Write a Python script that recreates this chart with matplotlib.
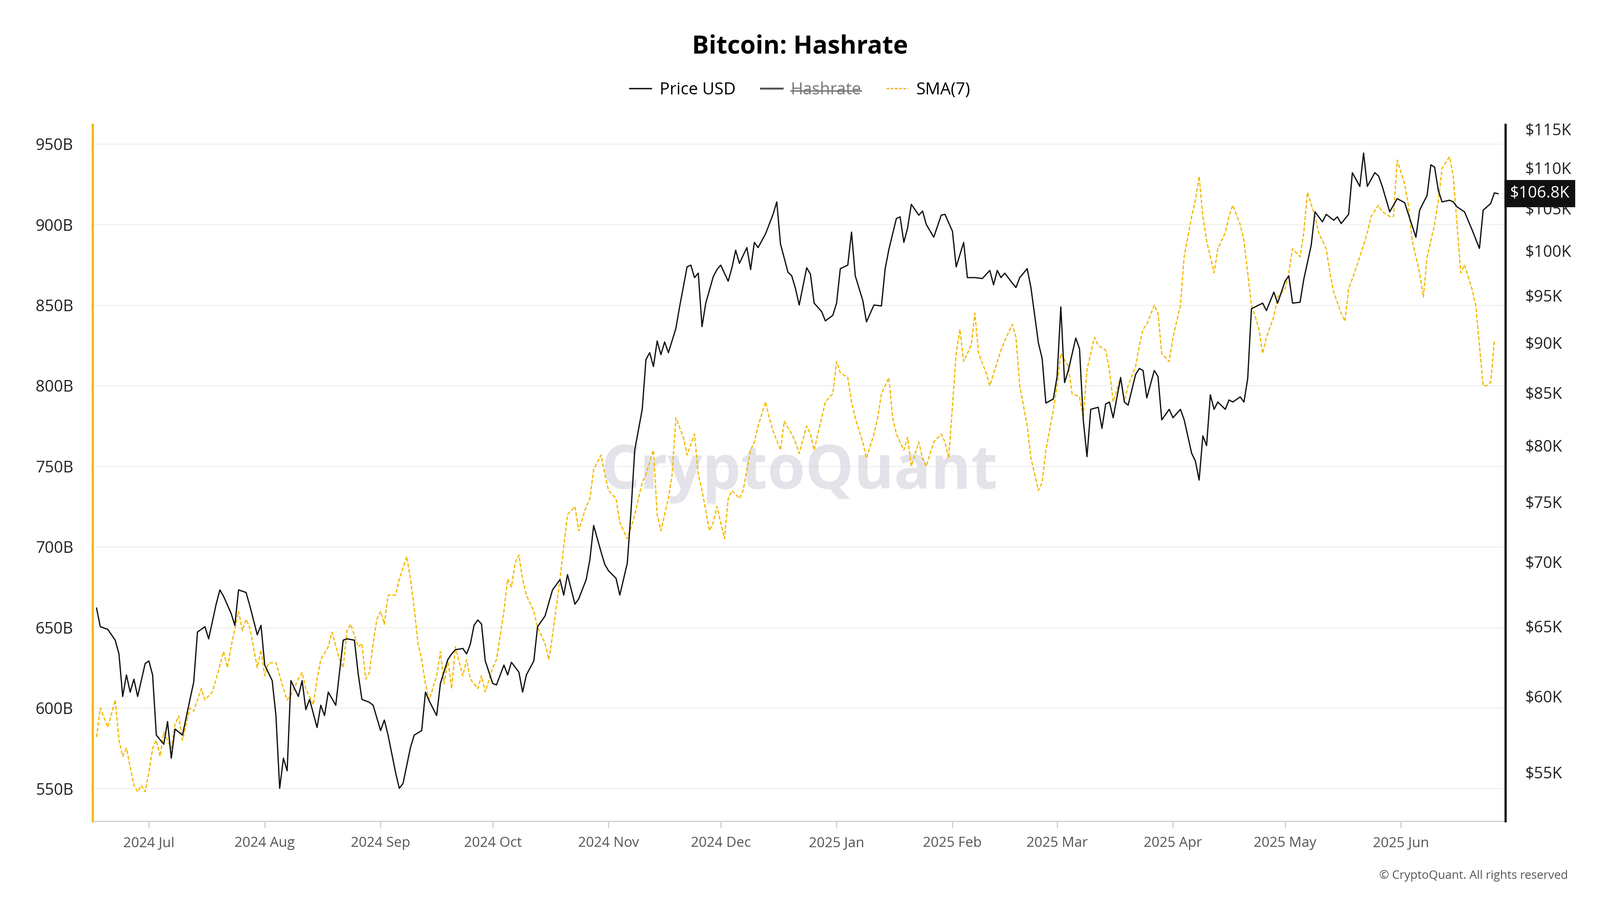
import matplotlib
matplotlib.use("Agg")
import matplotlib.pyplot as plt
import matplotlib.dates as mdates
from matplotlib.lines import Line2D
from matplotlib.ticker import FixedLocator, FuncFormatter, NullLocator
import pandas as pd

plt.rcParams["font.family"] = ["Open Sans", "DejaVu Sans"]

START = pd.Timestamp("2024-07-01")

# price USD (K), day offset from 2024-07-01
PRICE_DAY = [-14, -13, -11, -9, -8, -7, -6, -5, -4, -3, -1, 0, 1, 2, 4, 5, 6, 7, 9, 11, 12, 13, 15, 16, 18, 19, 20, 22,
             23, 24, 26, 27, 29, 30, 31, 33, 34, 35, 36, 37, 38, 40, 41, 42, 43, 45, 46, 47, 48, 50, 52, 53, 55, 56,
             57, 59, 60, 62, 63, 64, 66, 67, 68, 70, 71, 73, 74, 75, 77, 78, 80, 81, 82, 84, 85, 86, 87, 88, 89, 90,
             92, 93, 95, 96, 97, 99, 100, 101, 103, 104, 106, 107, 108, 110, 111, 112, 114, 115, 117, 118, 119, 121,
             122, 123, 125, 126, 128, 129, 130, 132, 133, 134, 135, 136, 137, 138, 139, 141, 142, 144, 145, 146, 147,
             148, 149, 151, 152, 153, 155, 156, 157, 158, 160, 161, 162, 163, 165, 167, 168, 169, 171, 172, 173, 174,
             176, 177, 178, 180, 181, 183, 184, 185, 187, 188, 189, 191, 192, 194, 196, 197, 198, 200, 201, 202, 203,
             204, 206, 207, 208, 210, 212, 213, 215, 216, 218, 219, 221, 223, 225, 226, 227, 228, 229, 231, 232, 233,
             235, 236, 238, 239, 240, 242, 243, 244, 245, 246, 248, 249, 250, 251, 252, 254, 255, 256, 257, 258, 260,
             261, 262, 264, 265, 266, 267, 269, 270, 271, 273, 274, 276, 277, 279, 280, 281, 282, 283, 284, 285, 286,
             288, 289, 290, 292, 293, 294, 295, 297, 298, 299, 301, 302, 304, 305, 306, 308, 309, 311, 312, 313, 314,
             315, 317, 318, 319, 321, 322, 324, 325, 326, 328, 329, 330, 332, 333, 334, 336, 337, 339, 340, 342, 343,
             344, 345, 346, 348, 349, 350, 352, 354, 356, 357, 359, 360, 361]
PRICE_K = [66.4, 65.0, 64.8, 64.0, 63.0, 60.0, 61.5, 60.3, 61.2, 60.0, 62.3, 62.5, 61.5, 57.4, 56.8, 58.3, 55.9, 57.8,
           57.4, 59.8, 61.0, 64.6, 65.0, 64.1, 66.7, 67.8, 67.3, 66.0, 65.1, 67.8, 67.6, 66.6, 64.4, 65.1, 62.2, 61.1,
           58.7, 54.0, 55.9, 55.1, 61.1, 60.0, 61.1, 59.1, 59.8, 57.9, 59.4, 58.7, 60.3, 59.4, 64.0, 64.1, 64.0, 61.6,
           59.8, 59.6, 59.4, 57.7, 58.4, 57.4, 55.0, 54.0, 54.3, 56.6, 57.4, 57.7, 60.3, 59.7, 58.7, 60.9, 62.6, 63.0,
           63.3, 63.4, 63.0, 63.7, 65.1, 65.5, 65.2, 62.5, 60.9, 60.8, 62.2, 61.5, 62.4, 61.7, 60.3, 61.5, 62.5, 65.0,
           65.8, 66.8, 67.8, 68.6, 67.4, 69.0, 66.7, 67.1, 68.6, 70.2, 73.0, 70.8, 69.8, 69.3, 68.7, 67.4, 69.9, 74.2,
           79.6, 83.4, 88.3, 89.0, 87.6, 90.2, 88.8, 90.1, 89.0, 91.5, 93.8, 98.2, 98.4, 97.0, 97.5, 91.7, 94.2, 97.1,
           97.9, 98.4, 96.6, 98.1, 100.1, 98.6, 100.4, 97.9, 101.0, 100.4, 102.0, 104.3, 105.8, 100.8, 97.6, 97.2,
           95.8, 94.0, 98.1, 97.4, 94.2, 93.3, 92.3, 92.9, 94.2, 98.0, 98.4, 102.2, 97.2, 94.5, 92.2, 94.0, 93.9, 98.0,
           100.2, 103.8, 104.0, 101.0, 102.7, 105.5, 104.2, 104.7, 103.1, 101.6, 104.2, 104.3, 102.3, 98.2, 101.0,
           97.0, 97.0, 96.9, 97.8, 96.2, 97.8, 97.0, 97.5, 96.4, 95.9, 97.0, 98.0, 95.9, 90.0, 88.4, 84.0, 84.4, 86.6,
           93.8, 86.0, 87.2, 90.5, 89.4, 82.4, 79.0, 83.4, 83.6, 81.6, 83.9, 84.1, 82.6, 86.5, 84.1, 83.8, 86.8, 87.4,
           87.2, 84.5, 87.2, 86.6, 82.4, 83.4, 82.6, 83.4, 82.4, 79.3, 78.6, 76.9, 80.9, 80.0, 84.8, 83.4, 84.1, 83.4,
           84.3, 84.1, 84.6, 84.1, 86.4, 93.6, 94.0, 94.2, 93.4, 95.4, 94.2, 96.6, 97.2, 94.2, 94.3, 96.8, 100.7,
           104.6, 104.0, 103.4, 104.3, 103.6, 104.0, 103.2, 104.3, 109.4, 107.7, 111.9, 107.7, 109.4, 109.0, 107.7,
           104.6, 105.4, 106.2, 105.7, 104.3, 101.6, 104.8, 106.6, 110.4, 110.1, 107.2, 105.8, 106.0, 105.8, 105.2,
           104.6, 102.5, 100.3, 104.8, 105.6, 106.9, 106.8]

# hashrate SMA(7) (B), day offset from 2024-07-01
SMA_DAY = [-14, -13, -11, -9, -8, -7, -6, -4, -3, -2, -1, 0, 1, 2, 3, 4, 6, 7, 8, 9, 11, 12, 14, 15, 17, 18, 20, 21,
           22, 24, 25, 26, 27, 29, 30, 31, 32, 34, 35, 36, 37, 38, 40, 41, 42, 44, 45, 46, 48, 49, 51, 52, 53, 54, 56,
           57, 58, 59, 60, 61, 62, 63, 64, 66, 67, 69, 70, 71, 72, 73, 74, 75, 77, 78, 79, 80, 81, 82, 84, 85, 86, 88,
           89, 90, 92, 93, 95, 96, 97, 98, 99, 100, 101, 103, 104, 106, 107, 108, 110, 111, 112, 114, 115, 117, 118,
           119, 121, 122, 123, 125, 126, 128, 129, 130, 132, 133, 135, 136, 137, 139, 140, 141, 143, 144, 146, 147,
           148, 150, 151, 152, 154, 155, 156, 158, 159, 161, 162, 163, 165, 166, 167, 169, 170, 172, 173, 174, 176,
           177, 178, 180, 181, 183, 184, 185, 187, 188, 189, 191, 192, 194, 195, 196, 198, 199, 200, 202, 203, 204,
           206, 207, 208, 210, 212, 213, 214, 216, 217, 218, 220, 221, 222, 224, 225, 227, 228, 229, 231, 232, 233,
           235, 236, 238, 239, 240, 242, 243, 244, 246, 247, 249, 250, 251, 253, 254, 256, 257, 258, 260, 261, 262,
           264, 265, 266, 267, 269, 270, 271, 273, 274, 276, 277, 279, 280, 281, 282, 283, 285, 286, 288, 289, 290,
           292, 293, 295, 296, 297, 298, 299, 301, 302, 304, 305, 306, 308, 309, 310, 312, 313, 315, 316, 317, 319,
           320, 321, 323, 324, 326, 327, 329, 330, 332, 333, 334, 336, 337, 338, 340, 341, 342, 344, 345, 346, 348,
           349, 350, 351, 352, 354, 355, 356, 357, 358, 359, 360]
SMA_B = [582, 600, 588, 605, 580, 570, 575, 552, 548, 552, 548, 560, 575, 580, 570, 585, 575, 590, 595, 580, 600, 598,
         612, 605, 610, 618, 635, 625, 638, 660, 648, 655, 650, 625, 636, 620, 628, 628, 620, 612, 605, 608, 618, 622,
         612, 602, 618, 630, 638, 647, 630, 625, 648, 652, 638, 640, 618, 622, 640, 655, 660, 652, 670, 670, 680, 694,
         680, 662, 640, 630, 615, 605, 620, 635, 615, 630, 612, 638, 620, 630, 618, 612, 620, 610, 625, 630, 660, 680,
         675, 690, 695, 680, 670, 660, 650, 640, 630, 645, 680, 700, 720, 725, 710, 725, 730, 748, 757, 745, 735, 730,
         715, 705, 712, 720, 740, 745, 760, 720, 710, 730, 745, 780, 768, 757, 770, 745, 735, 710, 715, 725, 705, 730,
         735, 730, 735, 760, 765, 775, 790, 780, 772, 760, 778, 770, 765, 758, 775, 770, 760, 780, 790, 795, 815, 808,
         805, 790, 780, 765, 755, 770, 780, 795, 805, 780, 770, 760, 768, 750, 765, 755, 750, 765, 770, 765, 755, 820,
         835, 815, 825, 845, 820, 808, 800, 815, 822, 828, 838, 830, 800, 775, 755, 735, 740, 760, 785, 800, 820, 812,
         795, 793, 780, 810, 830, 825, 822, 810, 790, 805, 790, 800, 812, 825, 835, 838, 850, 845, 820, 815, 830, 850,
         880, 905, 915, 930, 905, 890, 870, 885, 895, 905, 912, 900, 890, 850, 843, 835, 820, 830, 843, 855, 860, 870,
         885, 880, 895, 920, 905, 895, 885, 870, 858, 845, 840, 860, 873, 880, 895, 905, 912, 908, 905, 905, 940, 925,
         912, 890, 870, 855, 880, 900, 915, 935, 942, 930, 900, 870, 875, 860, 850, 825, 800, 800, 802, 828]

LEFT_TICKS = [550, 600, 650, 700, 750, 800, 850, 900, 950]
RIGHT_TICKS = [55, 60, 65, 70, 75, 80, 85, 90, 95, 100, 105, 110, 115]
LAST_PRICE = "$106.8K"

YELLOW = "#f5b800"

fig = plt.figure(figsize=(16, 9), dpi=250)
ax = fig.add_axes([0.058, 0.0875, 0.883, 0.774])
ax2 = ax.twinx()

sma_dates = [START + pd.Timedelta(days=d) for d in SMA_DAY]
price_dates = [START + pd.Timedelta(days=d) for d in PRICE_DAY]

ax.plot(sma_dates, SMA_B, color=YELLOW, lw=0.9, ls=(0, (3, 1.5)), zorder=2)
ax2.plot(price_dates, PRICE_K, color="#111111", lw=0.9, zorder=3)

ax.set_xlim(START - pd.Timedelta(days=15), START + pd.Timedelta(days=363))
ax.set_ylim(529.7, 962)
ax2.set_yscale("log")
ax2.set_ylim(52.0, 115.6)

ax.yaxis.set_major_locator(FixedLocator(LEFT_TICKS))
ax.yaxis.set_major_formatter(FuncFormatter(lambda v, p: f"{v:.0f}B"))
ax.grid(axis="y", color="#f0f0f0", lw=0.8)
ax.set_axisbelow(True)
ax.tick_params(axis="y", length=0, labelsize=11.5, pad=14, colors="#222222")

ax2.yaxis.set_major_locator(FixedLocator(RIGHT_TICKS))
ax2.yaxis.set_minor_locator(NullLocator())
ax2.yaxis.set_major_formatter(FuncFormatter(lambda v, p: f"${v:.0f}K"))
ax2.tick_params(axis="y", length=0, labelsize=11.5, pad=14, colors="#222222")

ax.xaxis.set_major_locator(mdates.MonthLocator())
ax.xaxis.set_major_formatter(mdates.DateFormatter("%Y %b"))
ax.tick_params(axis="x", length=5, width=0.8, color="#cccccc", labelsize=10, labelcolor="#555555", pad=6)

for a in (ax, ax2):
    for s in a.spines.values():
        s.set_visible(False)
ax.spines["bottom"].set_visible(True)
ax.spines["bottom"].set_color("#cccccc")
ax2.spines["left"].set_visible(True)
ax2.spines["left"].set_color(YELLOW)
ax2.spines["left"].set_linewidth(1.6)
ax2.spines["right"].set_visible(True)
ax2.spines["right"].set_color("#111111")
ax2.spines["right"].set_linewidth(1.6)

# last price tag
ax2.text(1.003, 106.8, LAST_PRICE, transform=ax2.get_yaxis_transform(), va="center", ha="left",
         fontsize=11.5, color="white", bbox=dict(boxstyle="square,pad=0.35", fc="#111111", ec="none"), zorder=10)

ax.text(0.5, 0.5, "CryptoQuant", transform=ax.transAxes, ha="center", va="center", fontsize=44,
        fontweight="bold", color="#d8d8e0", alpha=0.7, zorder=1)

fig.text(0.5, 0.948, "Bitcoin: Hashrate", ha="center", va="center", fontsize=18, fontweight="bold")
fig.text(0.98, 0.027, "© CryptoQuant. All rights reserved", ha="right", va="center", fontsize=8.5, color="#555555")

handles = [Line2D([], [], color="#111111", lw=1),
           Line2D([], [], color="#555555", lw=1.4),
           Line2D([], [], color=YELLOW, lw=1, ls=(0, (2, 1)))]
leg = fig.legend(handles, ["Price USD", "Hashrate", "SMA(7)"], loc="center", bbox_to_anchor=(0.5, 0.9),
                 ncol=3, frameon=False, fontsize=12, handlelength=1.3, handletextpad=0.5, columnspacing=1.5)
leg.get_texts()[1].set_color("#777777")

fig.canvas.draw()
bb = leg.get_texts()[1].get_window_extent().transformed(fig.transFigure.inverted())
ymid = (bb.y0 + bb.y1) / 2 - 0.001
fig.add_artist(Line2D([bb.x0, bb.x1], [ymid, ymid], color="#777777", lw=1, transform=fig.transFigure))

fig.savefig("out.png", dpi=250)
